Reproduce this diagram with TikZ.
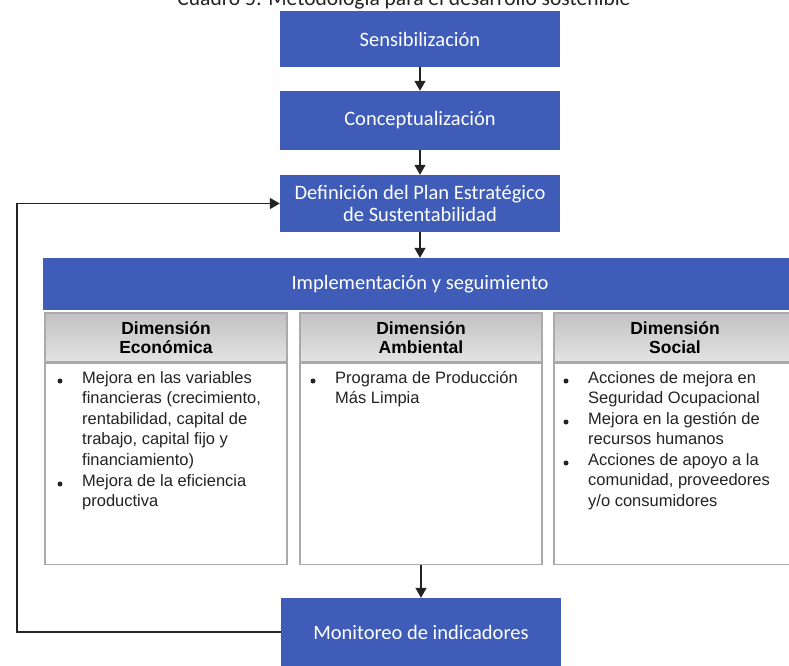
\documentclass[tikz,border=0pt]{standalone}
\usepackage{fontspec}
\setmainfont{Liberation Sans}
\newfontfamily\boxfont{Carlito}
\usetikzlibrary{arrows.meta}
\definecolor{stepblue}{RGB}{62,92,184}
\definecolor{framegray}{RGB}{170,170,170}
\definecolor{inkgray}{RGB}{35,35,35}
\tikzset{
  stepbox/.style={fill=stepblue, draw=none, text=white, align=center, inner sep=0pt,
    font=\boxfont\fontsize{20.5}{22.5}\selectfont},
  headbox/.style={draw=framegray, line width=1.2pt, top color=black!24, bottom color=black!11,
    minimum width=242pt, minimum height=49pt, inner sep=0pt, align=center,
    font=\bfseries\fontsize{17.5}{18.5}\selectfont, text=black},
  bodybox/.style={draw=framegray, line width=1.2pt, fill=white, minimum width=242pt,
    minimum height=201pt, inner sep=0pt},
  itemtext/.style={anchor=north west, inner sep=0pt, align=left, text=inkgray,
    font=\fontsize{16.5}{20.6}\selectfont},
  dot/.style={circle, fill=inkgray, inner sep=0pt, minimum size=5pt},
  flow/.style={draw=inkgray, line width=1.5pt, -{Triangle[length=10pt,width=11pt]}},
}
\begin{document}
\begin{tikzpicture}[x=1pt,y=-1pt]
\useasboundingbox (0,0) rectangle (789,665);
\clip (0,0) rectangle (789,665);
\fill[white] (0,0) rectangle (789,665);

% heading, partly above the page edge
\node[anchor=base, inner sep=0pt, text=inkgray, font=\boxfont\fontsize{21.5}{24}\selectfont]
  (title) at (404,5) {Cuadro 5: Metodología para el desarrollo sostenible};

% main sequence of steps
\node[stepbox, minimum width=280pt, minimum height=56pt] (sens) at (420,39) {Sensibilización};
\node[stepbox, minimum width=280pt, minimum height=59pt] (conc) at (420,120.5) {Conceptualización};
\node[stepbox, minimum width=280pt, minimum height=57pt] (plan) at (420,203.5)
  {Definición del Plan Estratégico\\de Sustentabilidad};
\node[stepbox, minimum width=754pt, minimum height=52pt] (impl) at (420,284)
  {Implementación y seguimiento};
\node[stepbox, minimum width=280pt, minimum height=68pt] (moni) at (421,632)
  {Monitoreo de indicadores};

% the three dimensions
\node[headbox] (hdA) at (166,337.5) {Dimensión\\Económica};
\node[headbox] (hdB) at (421,337.5) {Dimensión\\Ambiental};
\node[headbox] (hdC) at (675,337.5) {Dimensión\\Social};
\node[bodybox, anchor=north] (bdA) at (hdA.south) {};
\node[bodybox, anchor=north] (bdB) at (hdB.south) {};
\node[bodybox, anchor=north] (bdC) at (hdC.south) {};

% económica
\node[dot] (dA1) at (60,381) {};
\node[itemtext] (tA1) at (82,371) {Mejora en las variables\\financieras (crecimiento,\\rentabilidad, capital de\\trabajo, capital fijo y\\financiamiento)};
\node[dot] (dA2) at (60,484) {};
\node[itemtext] (tA2) at (82,474) {Mejora de la eficiencia\\productiva};

% ambiental
\node[dot] (dB1) at (313,381) {};
\node[itemtext] (tB1) at (335,371) {Programa de Producción\\Más Limpia};

% social
\node[dot] (dC1) at (566,381) {};
\node[itemtext] (tC1) at (588,371) {Acciones de mejora en\\Seguridad Ocupacional};
\node[dot] (dC2) at (566,422) {};
\node[itemtext] (tC2) at (588,412) {Mejora en la gestión de\\recursos humanos};
\node[dot] (dC3) at (566,463) {};
\node[itemtext] (tC3) at (588,453) {Acciones de apoyo a la\\comunidad, proveedores\\y/o consumidores};

% connectors
\draw[flow] (sens) -- (conc);
\draw[flow] (conc) -- (plan);
\draw[flow] (plan) -- (impl);
\draw[flow] (bdB) -- (moni);
\coordinate (loop) at (17,632);
\draw[flow] (moni.west) -- (loop) |- (plan.west);
\end{tikzpicture}
\end{document}
